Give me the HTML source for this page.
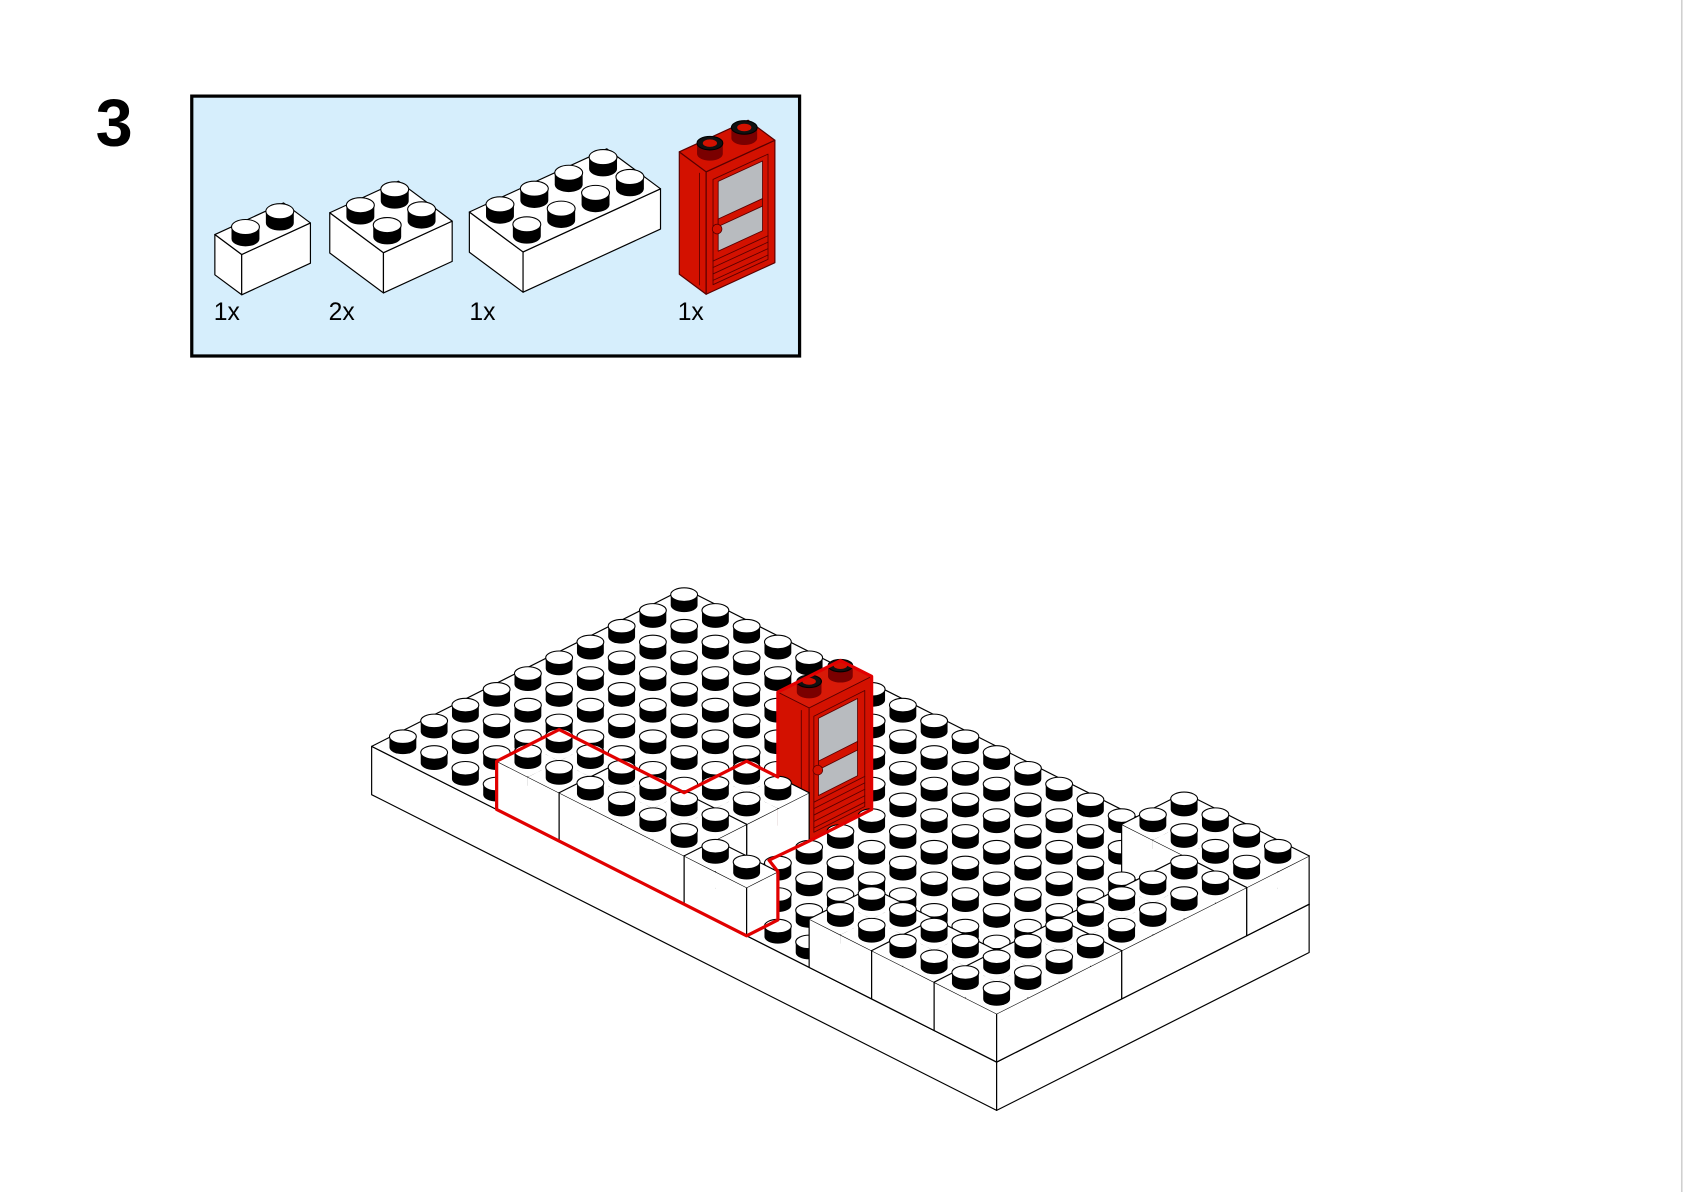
<!DOCTYPE html>
<html><head><meta charset="utf-8">
<style>html,body{margin:0;padding:0;background:#fff;}svg{display:block;}</style>
</head><body>
<svg id="s" xmlns="http://www.w3.org/2000/svg" width="1684" height="1192" viewBox="0 0 1568 1110">
<rect x="0" y="0" width="1568" height="1110" fill="#fff"/>
<line x1="1566" y1="0" x2="1566" y2="1110" stroke="#d0d0d0" stroke-width="1.5"/>
<text x="89" y="136" font-family="Liberation Sans, sans-serif" font-weight="bold" font-size="62">3</text>
<rect x="178.5" y="89.5" width="566" height="242" fill="#d6eefc" stroke="#000" stroke-width="3"/>
<g font-family="Liberation Sans, sans-serif" font-size="23" fill="#000">
<text x="199" y="298">1x</text>
<text x="306" y="298">2x</text>
<text x="437" y="298">1x</text>
<text x="631" y="298">1x</text>
</g>
<g id="g"></g>
</svg>
<script>
(function(){
let out='';
const f=n=>n.toFixed(1);
const pt=p=>f(p[0])+','+f(p[1]);
function poly(ps,fill,stroke,sw){out+='<polygon points="'+ps.map(pt).join(' ')+'" fill="'+fill+'" stroke="'+(stroke||'none')+'" stroke-width="'+(sw||0)+'" stroke-linejoin="round"/>';}
function L(a,b,c,w){out+='<line x1="'+f(a[0])+'" y1="'+f(a[1])+'" x2="'+f(b[0])+'" y2="'+f(b[1])+'" stroke="'+(c||'#000')+'" stroke-width="'+(w||1.1)+'" stroke-linecap="round"/>';}
function stud(x,y,rx,ry,sh,body,top,inner){
  out+='<path d="M'+f(x-rx)+','+f(y-sh)+' L'+f(x-rx)+','+f(y)+' A'+rx+','+ry+' 0 0 0 '+f(x+rx)+','+f(y)+' L'+f(x+rx)+','+f(y-sh)+' Z" fill="'+body+'"/>';
  out+='<ellipse cx="'+f(x)+'" cy="'+f(y-sh)+'" rx="'+rx+'" ry="'+ry+'" fill="'+top+'" stroke="#000" stroke-width="1"/>';
  if(inner) out+='<ellipse cx="'+f(x)+'" cy="'+f(y-sh)+'" rx="'+f(rx*0.55)+'" ry="'+f(ry*0.55)+'" fill="'+inner+'"/>';
}
const M=(i,j,h)=>[637+29.1*(i-j),548+14.7*(i+j)-h];
const HB=45;
const B={};
function addB(id,i0,i1,j0,j1){for(let i=i0;i<i1;i++)for(let j=j0;j<j1;j++)B[i+','+j]=id;}
addB('R1',16,20,0,2);addB('R2',18,20,2,6);addB('R3',18,20,6,10);addB('F1',16,18,8,10);addB('F2',14,16,8,10);
addB('N1',4,6,8,10);addB('N2',6,10,8,10);addB('N3',8,10,6,8);addB('N4',10,12,9,10);
const br=(i,j)=>B[i+','+j]||null;
const door=new Set(['9,4','9,5']);
poly([M(0,10,0),M(20,10,0),M(20,10,-HB),M(0,10,-HB)],'#fff','#000',1.1);
poly([M(20,10,0),M(20,0,0),M(20,0,-HB),M(20,10,-HB)],'#fff','#000',1.1);
poly([M(0,0,0),M(20,0,0),M(20,10,0),M(0,10,0)],'#fff','#000',1.1);
const SR=12.5,SY=6.3,SH=10;
function cell(i,j){
  const b=br(i,j);
  if(!b){ if(door.has(i+','+j))return; const c=M(i+.5,j+.5,0); stud(c[0],c[1]+1,SR,SY,SH,'#000','#fff'); return;}
  const h=HB;
  if(j==9||!br(i,j+1)){
    poly([M(i,j+1,0),M(i+1,j+1,0),M(i+1,j+1,h),M(i,j+1,h)],'#fff');
    L(M(i,j+1,h),M(i+1,j+1,h));L(M(i,j+1,0),M(i+1,j+1,0));
    if(br(i-1,j)!==b)L(M(i,j+1,0),M(i,j+1,h));
    if(br(i+1,j)!==b)L(M(i+1,j+1,0),M(i+1,j+1,h));
  }
  if(i==19||!br(i+1,j)){
    poly([M(i+1,j,0),M(i+1,j+1,0),M(i+1,j+1,h),M(i+1,j,h)],'#fff');
    L(M(i+1,j,h),M(i+1,j+1,h));L(M(i+1,j,0),M(i+1,j+1,0));
    if(br(i,j-1)!==b)L(M(i+1,j,0),M(i+1,j,h));
    if(br(i,j+1)!==b)L(M(i+1,j+1,0),M(i+1,j+1,h));
  }
  poly([M(i,j,h),M(i+1,j,h),M(i+1,j+1,h),M(i,j+1,h)],'#fff');
  if(br(i,j-1)!==b)L(M(i,j,h),M(i+1,j,h));
  if(br(i-1,j)!==b)L(M(i,j,h),M(i,j+1,h));
  const c=M(i+.5,j+.5,h); stud(c[0],c[1]+1,SR,SY,SH,'#000','#fff');
}
function drawDoor(){
  const R='#d31100',E='#5a0000',hD=124;
  poly([M(9,6,0),M(10,6,0),M(10,6,hD),M(9,6,hD)],R,E,0.8);
  poly([M(10,4,0),M(10,6,0),M(10,6,hD),M(10,4,hD)],R,E,0.8);
  poly([M(9,4,hD),M(10,4,hD),M(10,6,hD),M(9,6,hD)],'#d81a08',E,0.8);
  L(M(9.75,6,4),M(9.75,6,hD-6),E,0.8);
  poly([M(10,4.22,6),M(10,5.85,6),M(10,5.85,114),M(10,4.22,114)],'none',E,0.8);
  poly([M(10,4.45,38),M(10,5.7,38),M(10,5.7,110),M(10,4.45,110)],'#b8bbbf',E,0.8);
  poly([M(10,4.45,62),M(10,5.7,62),M(10,5.7,70),M(10,4.45,70)],R,E,0.8);
  const hc=M(10,5.72,62);out+='<circle cx="'+f(hc[0])+'" cy="'+f(hc[1])+'" r="4.5" fill="'+R+'" stroke="'+E+'" stroke-width="0.8"/>';
  [10,16,22,28,34].forEach(h=>L(M(10,4.22,h),M(10,5.85,h),E,0.8));
  [5.5,4.5].forEach(j=>{const c=M(9.5,j,hD);stud(c[0],c[1],11.5,5.8,10,'#7a0000','#111',R);});
}
const cells=[];
for(let i=0;i<20;i++)for(let j=0;j<10;j++)cells.push({k:i+j+i*0.001,i,j});
cells.push({k:13.5,door:true});
cells.sort((a,b)=>a.k-b.k);
cells.forEach(c=>{if(c.door)drawDoor();else cell(c.i,c.j);});
const red=[M(4,10,HB),M(4,8,HB),M(8,8,HB),M(8,6,HB),M(9,6,HB),M(9,6,124),M(9,4,124),M(10,4,124),M(10,4,0),M(10,6,0),[716,801],M(12,9,HB),M(12,9,0),M(12,10,0),M(4,10,0)];
poly(red,'none','#e10000',3);
const u=[-32,14.7],v=[25,18.6];
function part(T,a,b,h,fill,edge,studs){
  const Q=(i,j,z)=>[T[0]+v[0]*i+u[0]*j,T[1]+v[1]*i+u[1]*j+(h-z)];
  poly([Q(0,b,0),Q(a,b,0),Q(a,b,h),Q(0,b,h)],fill,edge,1.1);
  poly([Q(a,0,0),Q(a,b,0),Q(a,b,h),Q(a,0,h)],fill,edge,1.1);
  poly([Q(0,0,h),Q(a,0,h),Q(a,b,h),Q(0,b,h)],fill,edge,1.1);
  if(studs){const l=[];for(let i=0;i<a;i++)for(let j=0;j<b;j++)l.push([i,j]);l.sort((p,q)=>(p[0]+p[1])-(q[0]+q[1]));
    l.forEach(p=>{const c=Q(p[0]+.5,p[1]+.5,h);stud(c[0],c[1]+2,13,7,11,'#000','#fff');});}
  return Q;
}
part([264,189],1,2,37.5,'#fff','#000',true);
part([371,168.7],2,2,37.5,'#fff','#000',true);
part([565,138.6],2,4,37.5,'#fff','#000',true);
(function(){
  const R='#d31100',E='#5a0000';
  const Q=part([696.5,112],1,2,114,R,E,false);
  L(Q(0.75,2,4),Q(0.75,2,108),E,0.8);
  poly([Q(1,0.2,6),Q(1,1.8,6),Q(1,1.8,104),Q(1,0.2,104)],'none',E,0.8);
  poly([Q(1,0.36,35),Q(1,1.65,35),Q(1,1.65,100),Q(1,0.36,100)],'#b8bbbf',E,0.8);
  poly([Q(1,0.36,58),Q(1,1.65,58),Q(1,1.65,65),Q(1,0.36,65)],R,E,0.8);
  const hc=Q(1,1.68,56);out+='<circle cx="'+f(hc[0])+'" cy="'+f(hc[1])+'" r="4.5" fill="'+R+'" stroke="'+E+'" stroke-width="0.8"/>';
  [10,16,22,28].forEach(h=>L(Q(1,0.2,h),Q(1,1.8,h),E,0.8));
  [[0.5,1.5],[0.5,0.5]].forEach(p=>{const c=Q(p[0],p[1],114);stud(c[0],c[1],12,6.3,10,'#7a0000','#111',R);});
})();
document.getElementById('g').innerHTML=out;
})();
</script>
</body></html>
